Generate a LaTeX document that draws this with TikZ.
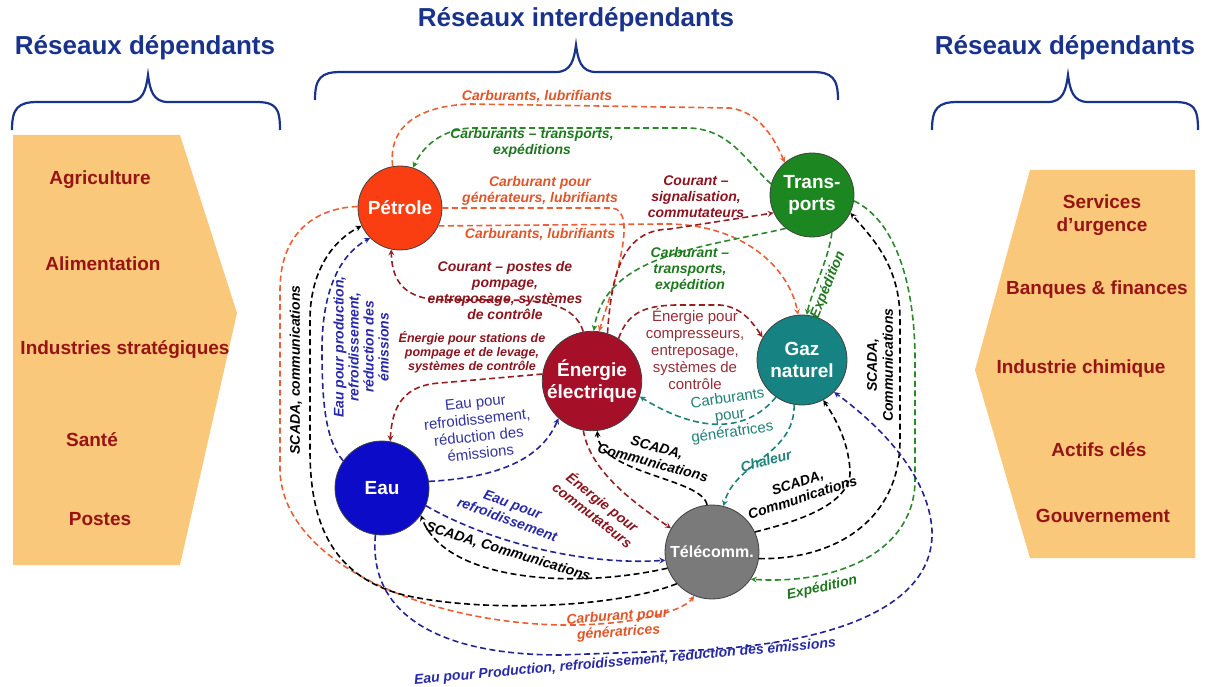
\documentclass[tikz,border=0pt]{standalone}
\usepackage{fontspec}
\setmainfont{Liberation Sans}
\usepackage{tikz}

\definecolor{titleblue}{RGB}{25,50,140}
\definecolor{sectorfill}{RGB}{250,200,122}
\definecolor{sectorred}{RGB}{150,20,20}
\definecolor{petcol}{RGB}{250,62,18}
\definecolor{tracol}{RGB}{28,135,32}
\definecolor{elecol}{RGB}{165,15,40}
\definecolor{gazcol}{RGB}{22,130,130}
\definecolor{eaucol}{RGB}{12,12,200}
\definecolor{telcol}{RGB}{122,122,122}
\definecolor{cfuel}{RGB}{235,95,55}
\definecolor{cship}{RGB}{45,135,45}
\definecolor{cpow}{RGB}{150,30,35}
\definecolor{cheat}{RGB}{30,130,120}
\definecolor{cwat}{RGB}{35,35,150}
\definecolor{tfuel}{RGB}{225,85,40}
\definecolor{tship}{RGB}{30,120,30}
\definecolor{tpow}{RGB}{140,20,30}
\definecolor{tpowr}{RGB}{150,45,55}
\definecolor{theat}{RGB}{30,130,120}
\definecolor{twat}{RGB}{40,40,170}
\definecolor{twatr}{RGB}{50,50,160}

\begin{document}
\begin{tikzpicture}[x=1pt,y=-1pt,
    infra/.style={circle,draw=black!75,line width=0.8pt,minimum size=#1,inner sep=0pt,
      text=white,align=center,font=\fontsize{19}{22}\selectfont\bfseries},
    link/.style={dash pattern=on 6pt off 3.5pt,line width=1.6pt,-stealth},
    lab/.style={font=\fontsize{14}{16}\selectfont\bfseries\itshape,align=center,inner sep=1pt},
    labs/.style={font=\fontsize{12.5}{14}\selectfont\bfseries\itshape,align=center,inner sep=1pt},
    labr/.style={font=\fontsize{15}{17}\selectfont,align=center,inner sep=1pt},
    title/.style={font=\fontsize{26}{28}\selectfont\bfseries,text=titleblue},
    sector/.style={font=\fontsize{19}{23}\selectfont\bfseries,text=sectorred,align=center},
    brace/.style={draw=titleblue,line width=2.2pt}]
    \useasboundingbox (0,0) rectangle (1205,687);

    \node[title] (tleft) at (145,48) {Réseaux dépendants};
    \node[title] (tmid) at (576,20) {Réseaux interdépendants};
    \node[title] (tright) at (1065,48) {Réseaux dépendants};

    \draw[brace] (12,130) .. controls (12,108) and (18,102) .. (38,102) -- (128,102)
        .. controls (143,102) and (146,90) .. (148,75) .. controls (150,90) and (153,102) .. (168,102)
        -- (256,102) .. controls (276,102) and (280,108) .. (280,130);
    \draw[brace] (315,100) .. controls (315,78) and (321,72) .. (341,72) -- (556,72)
        .. controls (571,72) and (574,60) .. (576,45) .. controls (578,60) and (581,72) .. (596,72)
        -- (812,72) .. controls (832,72) and (838,78) .. (838,100);
    \draw[brace] (932,130) .. controls (932,108) and (938,102) .. (958,102) -- (1048,102)
        .. controls (1063,102) and (1066,90) .. (1068,75) .. controls (1070,90) and (1073,102) .. (1088,102)
        -- (1174,102) .. controls (1194,102) and (1198,108) .. (1198,130);

    \fill[sectorfill] (13,135) -- (180,135) -- (237,313) -- (180,565) -- (13,565) -- cycle;
    \fill[sectorfill] (1030,170) -- (1195,170) -- (1195,558) -- (1030,558) -- (975,370) -- cycle;

    \node[sector] (agri) at (100,180) {Agriculture};
    \node[sector] (alim) at (103,264) {Alimentation};
    \node[sector] (indus) at (125,350) {Industries stratégiques};
    \node[sector] (sante) at (92,440) {Santé};
    \node[sector] (postes) at (100,519) {Postes};
    \node[sector] (urg) at (1102,215) {Services\\d’urgence};
    \node[sector] (banq) at (1097,290) {Banques \& finances};
    \node[sector] (chim) at (1081,369) {Industrie chimique};
    \node[sector] (actifs) at (1099,450) {Actifs clés};
    \node[sector] (gouv) at (1103,516) {Gouvernement};

    \node[infra=84pt,fill=petcol] (pet) at (400,208) {Pétrole};
    \node[infra=84pt,fill=tracol] (tra) at (812,195) {Trans-\\ports};
    \node[infra=94pt,fill=elecol] (ele) at (592,381) {Énergie\\électrique};
    \node[infra=90pt,fill=gazcol] (gaz) at (802,360) {Gaz\\naturel};
    \node[infra=94pt,fill=eaucol] (eau) at (382,488) {Eau};
    \node[infra=94pt,fill=telcol,font=\fontsize{16}{18}\selectfont\bfseries] (tel) at (712,552) {Télécomm.};

    \draw[link,cfuel] (pet.100) .. controls (388,125) and (420,106) .. (470,104) -- (730,108)
        .. controls (760,112) and (775,140) .. (tra.130);
    \draw[link,cship] (tra.165) .. controls (745,160) and (730,130) .. (690,128) -- (470,128)
        .. controls (440,130) and (422,148) .. (pet.72);
    \draw[link,cfuel] (pet.0) -- (612,208) .. controls (640,210) and (612,290) .. (ele.82);
    \draw[link,cfuel] (pet.-25) -- (660,224) .. controls (745,222) and (790,270) .. (gaz.95);
    \draw[link,cpow] (ele.72) .. controls (612,262) and (628,230) .. (670,229) -- (tra.205);
    \draw[link,cship] (tra.232) .. controls (700,248) and (606,255) .. (ele.88);
    \draw[link,cpow] (ele.100) .. controls (575,305) and (545,300) .. (505,300) -- (445,300)
        .. controls (405,300) and (392,282) .. (pet.-102);
    \draw[link,cpow] (ele.58) .. controls (628,312) and (645,306) .. (675,305) -- (720,305)
        .. controls (742,307) and (752,322) .. (gaz.150);
    \draw[link,cship] (tra.-62) .. controls (828,262) and (812,290) .. (gaz.84);
    \draw[link,cheat] (gaz.235) .. controls (742,438) and (690,428) .. (ele.-18);
    \draw[link,cheat] (gaz.-100) .. controls (795,455) and (735,462) .. (tel.76);
    \draw[link] (tel.96) .. controls (702,478) and (600,474) .. (ele.-84);
    \draw[link,cpow] (ele.-100) .. controls (590,470) and (630,500) .. (tel.150);
    \draw[link,cwat] (eau.-22) .. controls (485,540) and (580,566) .. (tel.190);
    \draw[link] (tel.-160) .. controls (570,590) and (445,580) .. (eau.-35);
    \draw[link] (tel.-8) .. controls (835,560) and (900,520) .. (900,440) -- (900,320)
        .. controls (900,265) and (872,238) .. (tra.-25);
    \draw[link] (tel.25) .. controls (795,522) and (852,505) .. (850,470)
        .. controls (848,440) and (835,418) .. (gaz.-62);
    \draw[link,cship] (tra.-8) .. controls (898,222) and (915,290) .. (915,360) -- (915,480)
        .. controls (915,550) and (840,585) .. (tel.-35);
    \draw[link,cwat] (eau.-98) .. controls (368,615) and (440,655) .. (560,655) -- (700,650)
        .. controls (850,642) and (935,600) .. (932,530) .. controls (928,470) and (872,420) .. (gaz.-45);
    \draw[link,cfuel] (pet.178) .. controls (313,208) and (280,235) .. (280,290) -- (280,470)
        .. controls (282,560) and (420,622) .. (560,625) .. controls (630,626) and (682,612) .. (tel.-112);
    \draw[link] (tel.-138) .. controls (610,610) and (470,612) .. (400,594)
        .. controls (330,574) and (310,520) .. (310,450) -- (310,320)
        .. controls (310,270) and (334,240) .. (pet.-155);
    \draw[link,cwat] (eau.145) .. controls (325,440) and (322,400) .. (322,350)
        .. controls (322,290) and (340,255) .. (pet.-135);
    \draw[link,cwat] (eau.8) .. controls (492,478) and (540,462) .. (ele.-132);
    \draw[link,cpow] (ele.172) -- (440,383) .. controls (405,385) and (392,405) .. (eau.80);

    \node[lab,text=tfuel] (fuelTop) at (537,97) {Carburants, lubrifiants};
    \node[lab,text=tship] (shipTop) at (532,143) {Carburants -- transports,\\expéditions};
    \node[lab,text=tfuel] (fuelGen) at (540,191) {Carburant pour\\générateurs, lubrifiants};
    \node[lab,text=tfuel] (fuelGaz) at (540,235) {Carburants, lubrifiants};
    \node[lab,text=tpow] (powSig) at (696,197) {Courant --\\signalisation,\\commutateurs};
    \node[lab,text=tpow] (powPump) at (505,290) {Courant -- postes de\\pompage,\\entreposage, systèmes\\de contrôle};
    \node[lab,text=tship] (shipEle) at (690,270) {Carburant --\\transports,\\expédition};
    \node[labr,text=tpowr] (powGaz) at (695,349) {Énergie pour\\compresseurs,\\entreposage,\\systèmes de\\contrôle};
    \node[lab,text=tship,rotate=68] (shipGaz) at (828,285) {Expédition};
    \node[labr,text=theat,rotate=8] (heatEle) at (730,416) {Carburants\\pour\\génératrices};
    \node[lab,text=theat,rotate=15] (heatTel) at (766,461) {Chaleur};
    \node[lab,rotate=-15] (comEle) at (655,455) {SCADA,\\Communications};
    \node[lab,rotate=18] (comGaz) at (800,490) {SCADA,\\Communications};
    \node[lab,rotate=90] (comTra) at (880,365) {SCADA,\\Communications};
    \node[lab,text=tship,rotate=12] (shipTel) at (822,588) {Expédition};
    \node[lab,text=tpow,rotate=-38] (powTel) at (598,508) {Énergie pour\\commutateurs};
    \node[lab,text=twat,rotate=-20] (watTel) at (510,512) {Eau pour\\refroidissement};
    \node[lab,rotate=-17] (comEau) at (508,552) {SCADA, Communications};
    \node[lab,text=tfuel,rotate=4] (fuelTel) at (618,625) {Carburant pour\\génératrices};
    \node[lab,text=twat,rotate=5] (watGaz) at (625,662) {Eau pour Production, refroidissement, réduction des émissions};
    \node[lab,rotate=90] (comPet) at (296,370) {SCADA, communications};
    \node[lab,text=twat,rotate=90,font=\fontsize{14}{15}\selectfont\bfseries\itshape] (watPet) at (361,347) {Eau pour production,\\refroidissement,\\réduction des\\émissions};
    \node[labs,text=tpow] (powEau) at (472,352) {Énergie pour stations de\\pompage et de levage,\\systèmes de contrôle};
    \node[labr,text=twatr,rotate=6] (watEle) at (478,428) {Eau pour\\refroidissement,\\réduction des\\émissions};
\end{tikzpicture}
\end{document}
